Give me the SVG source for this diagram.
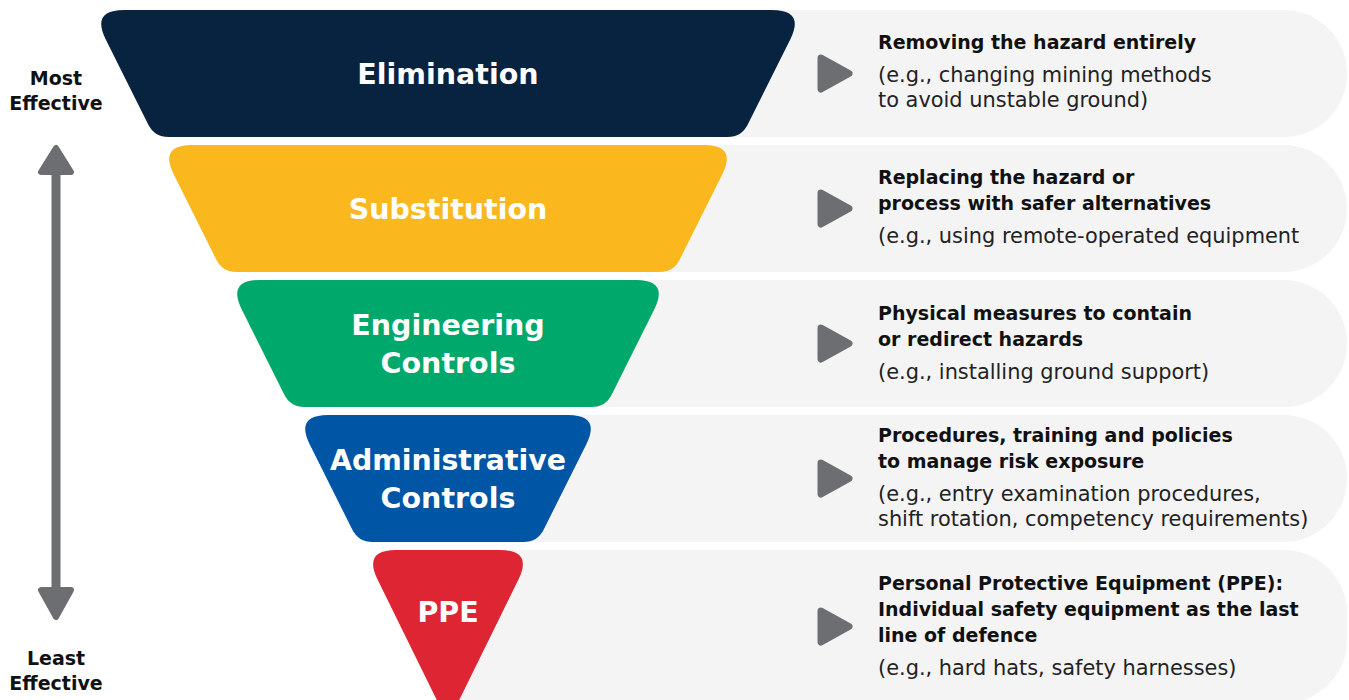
<svg xmlns="http://www.w3.org/2000/svg" width="1349" height="700" viewBox="0 0 1349 700">
  <style>
    .band { fill: #f4f4f4; }
    .play { fill: #6d6e71; stroke: #6d6e71; stroke-width: 7; stroke-linejoin: round; }
    .lbl { font-family: "DejaVu Sans", "Liberation Sans", sans-serif; font-weight: bold; font-size: 28.5px; fill: #ffffff; text-anchor: middle; }
    .side { font-family: "DejaVu Sans", "Liberation Sans", sans-serif; font-weight: bold; font-size: 19px; fill: #111111; text-anchor: middle; }
    .hd { font-family: "DejaVu Sans", "Liberation Sans", sans-serif; font-weight: bold; font-size: 19px; fill: #111111; }
    .ex { font-family: "DejaVu Sans", "Liberation Sans", sans-serif; font-size: 20.9px; fill: #222222; }
    .arr { fill: #6d6e71; stroke: #6d6e71; stroke-width: 6; stroke-linejoin: round; }
  </style>

  <!-- background bands -->
  <g id="bands">
    <path class="band" d="M448,10 H1283.5 A63.5,63.5 0 0 1 1283.5,137 H448 Z"/>
    <path class="band" d="M448,145 H1283.5 A63.5,63.5 0 0 1 1283.5,272 H448 Z"/>
    <path class="band" d="M448,280 H1283.5 A63.5,63.5 0 0 1 1283.5,407 H448 Z"/>
    <path class="band" d="M448,415 H1283.5 A63.5,63.5 0 0 1 1283.5,542 H448 Z"/>
    <path class="band" d="M448,550 H1284 A63,63 0 0 1 1347,613 V640 A63,63 0 0 1 1284,703 H448 Z"/>
  </g>

  <!-- effectiveness axis -->
  <g id="axis">
    <line x1="56" y1="168" x2="56" y2="596" stroke="#6d6e71" stroke-width="9"/>
    <polygon class="arr" points="56,148 41,172 71,172"/>
    <polygon class="arr" points="41,590 71,590 56,617"/>
    <text class="side" x="56" y="85">Most</text>
    <text class="side" x="56" y="110">Effective</text>
    <text class="side" x="56" y="665">Least</text>
    <text class="side" x="56" y="690">Effective</text>
  </g>

  <g id="elimination">
    <path fill="#08233f" d="M124,10 L772,10 Q805,10 790.24,39.5 L747.76,124.48 Q741.5,137 727.5,137 L168.5,137 Q154.5,137 148.24,124.48 L105.76,39.5 Q91,10 124,10 Z"/>
    <text class="lbl" x="448" y="83.5">Elimination</text>
    <polygon class="play" points="821,58 849,73.5 821,89"/>
    <text class="hd" x="878" y="49">Removing the hazard entirely</text>
    <text class="ex" x="878" y="82">(e.g., changing mining methods</text>
    <text class="ex" x="878" y="107">to avoid unstable ground)</text>
  </g>

  <g id="substitution">
    <path fill="#fbb81e" d="M192,145 L704,145 Q737,145 722.24,174.5 L679.76,259.48 Q673.5,272 659.5,272 L236.5,272 Q222.5,272 216.24,259.48 L173.76,174.5 Q159,145 192,145 Z"/>
    <text class="lbl" x="448" y="218.5">Substitution</text>
    <polygon class="play" points="821,193 849,208.5 821,224"/>
    <text class="hd" x="878" y="184">Replacing the hazard or</text>
    <text class="hd" x="878" y="210">process with safer alternatives</text>
    <text class="ex" x="878" y="243">(e.g., using remote-operated equipment</text>
  </g>

  <g id="engineering">
    <path fill="#00a86b" d="M260,280 L636,280 Q669,280 654.24,309.5 L611.76,394.48 Q605.5,407 591.5,407 L304.5,407 Q290.5,407 284.24,394.48 L241.76,309.5 Q227,280 260,280 Z"/>
    <text class="lbl" x="448" y="335">Engineering</text>
    <text class="lbl" x="448" y="373">Controls</text>
    <polygon class="play" points="821,328 849,343.5 821,359"/>
    <text class="hd" x="878" y="320">Physical measures to contain</text>
    <text class="hd" x="878" y="345.5">or redirect hazards</text>
    <text class="ex" x="878" y="378.5">(e.g., installing ground support)</text>
  </g>

  <g id="administrative">
    <path fill="#0055a5" d="M328,415 L568,415 Q601,415 586.24,444.5 L543.76,529.48 Q537.5,542 523.5,542 L372.5,542 Q358.5,542 352.24,529.48 L309.76,444.5 Q295,415 328,415 Z"/>
    <text class="lbl" x="448" y="470" textLength="236" lengthAdjust="spacingAndGlyphs">Administrative</text>
    <text class="lbl" x="448" y="508">Controls</text>
    <polygon class="play" points="821,463 849,478.5 821,494"/>
    <text class="hd" x="878" y="442">Procedures, training and policies</text>
    <text class="hd" x="878" y="468">to manage risk exposure</text>
    <text class="ex" x="878" y="501">(e.g., entry examination procedures,</text>
    <text class="ex" x="878" y="526">shift rotation, competency requirements)</text>
  </g>

  <g id="ppe">
    <path fill="#de2533" d="M396,550 L500,550 Q533,550 518.45,579.6 L461.2,696.1 Q448,723 434.8,696.1 L377.55,579.6 Q363,550 396,550 Z"/>
    <text class="lbl" x="448" y="622">PPE</text>
    <polygon class="play" points="821,611 849,626.5 821,642"/>
    <text class="hd" x="878" y="590">Personal Protective Equipment (PPE):</text>
    <text class="hd" x="878" y="616">Individual safety equipment as the last</text>
    <text class="hd" x="878" y="642">line of defence</text>
    <text class="ex" x="878" y="675">(e.g., hard hats, safety harnesses)</text>
  </g>
</svg>
